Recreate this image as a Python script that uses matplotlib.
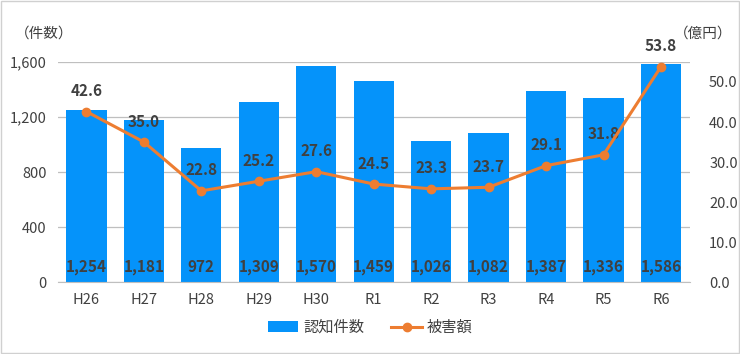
import matplotlib
matplotlib.use("Agg")
import matplotlib.pyplot as plt
from matplotlib.patches import Rectangle

plt.rcParams['font.family'] = ['Noto Sans CJK JP', 'DejaVu Sans']

years = ['H26', 'H27', 'H28', 'H29', 'H30', 'R1', 'R2', 'R3', 'R4', 'R5', 'R6']
cases = [1254, 1181, 972, 1309, 1570, 1459, 1026, 1082, 1387, 1336, 1586]
damage = [42.6, 35.0, 22.8, 25.2, 27.6, 24.5, 23.3, 23.7, 29.1, 31.8, 53.8]

bar_color = '#0593FA'
line_color = '#ED7D31'
text_color = '#404040'

fig = plt.figure(figsize=(7.4, 3.54), dpi=100)
fig.patches.append(Rectangle((0.002, 0.003), 0.996, 0.994, transform=fig.transFigure,
                             fill=False, edgecolor='#D0D0D0', linewidth=1))
ax = fig.add_axes([0.078, 0.203, 0.854, 0.622])
ax2 = ax.twinx()

x = list(range(len(years)))
bars = ax.bar(x, cases, width=0.7, color=bar_color, label='認知件数', zorder=2)
for xi, v in zip(x, cases):
    ax.text(xi, 110, f'{v:,}', ha='center', va='center', fontsize=11,
            fontweight='bold', color=text_color, zorder=3)

ax.set_ylim(0, 1600)
ax.set_yticks([0, 400, 800, 1200, 1600])
ax.set_yticklabels([f'{t:,}' for t in [0, 400, 800, 1200, 1600]])
ax.set_xlim(-0.5, len(years) - 0.5)
ax.set_xticks(x)
ax.set_xticklabels(years)
ax.yaxis.grid(True, color='#BFBFBF', linewidth=0.9, zorder=0)
ax.set_axisbelow(True)
for s in ['top', 'right', 'left']:
    ax.spines[s].set_visible(False)
ax.spines['bottom'].set_color('#BFBFBF')
ax.tick_params(axis='both', length=0, labelsize=10.5, colors=text_color, pad=8)

line, = ax2.plot(x, damage, color=line_color, linewidth=2.2, marker='o',
                 markersize=6, label='被害額', zorder=4)
for xi, v in zip(x, damage):
    ax2.annotate(f'{v:.1f}', (xi, v), xytext=(0, 9), textcoords='offset points',
                 ha='center', va='bottom', fontsize=11, fontweight='bold',
                 color=text_color)
ax2.set_ylim(0, 55)
ax2.set_yticks([0, 10, 20, 30, 40, 50])
ax2.set_yticklabels([f'{t:.1f}' for t in [0, 10, 20, 30, 40, 50]])
for s in ['top', 'right', 'left', 'bottom']:
    ax2.spines[s].set_visible(False)
ax2.tick_params(axis='y', length=0, labelsize=10.5, colors=text_color, pad=14)

fig.text(0.02, 0.905, '（件数）', fontsize=10.5, color=text_color, va='center')
fig.text(0.99, 0.905, '（億円）', fontsize=10.5, color=text_color, va='center', ha='right')

fig.legend([bars, line], ['認知件数', '被害額'], loc='center', bbox_to_anchor=(0.5, 0.075),
           ncol=2, frameon=False, fontsize=11, labelcolor=text_color,
           handlelength=2.0, handletextpad=0.3, columnspacing=1.8)

fig.savefig('out.png', dpi=100)
